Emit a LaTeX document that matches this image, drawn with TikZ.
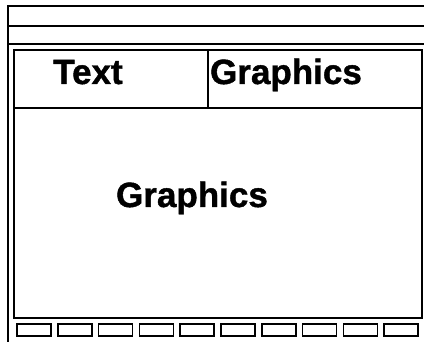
\documentclass[tikz,border=0pt]{standalone}
\usepackage{fontspec}
\setmainfont{Liberation Sans}[BoldFeatures={FakeBold=1.2}]
\begin{document}
\begin{tikzpicture}[x=1pt,y=-1pt,
  ln/.style={line width=1.6pt,black},
  lbl/.style={font=\fontsize{35}{35}\selectfont\bfseries,inner sep=0pt,anchor=base},
  key/.style={ln}]
\useasboundingbox[fill=white] (0,0) rectangle (424,342);
% outer frame
\draw[ln] (424,6) -- (8,6) -- (8,342);
\draw[ln] (8,26) -- (424,26);
\draw[ln] (8,44) -- (424,44);
% inner box
\draw[ln] (14,50) rectangle (422,318);
\draw[ln] (208,50) -- (208,108);
\draw[ln] (14,108) -- (422,108);
% labels
\node[lbl] (t1) at (88,84) {Text};
\node[lbl] (g1) at (286,84) {Graphics};
\node[lbl] (g2) at (192,207) {Graphics};
% soft keys
\foreach \i in {0,...,9}{
  \draw[key] ({17+40.8*\i},324) rectangle ({51+40.8*\i},336);
}
\end{tikzpicture}
\end{document}
